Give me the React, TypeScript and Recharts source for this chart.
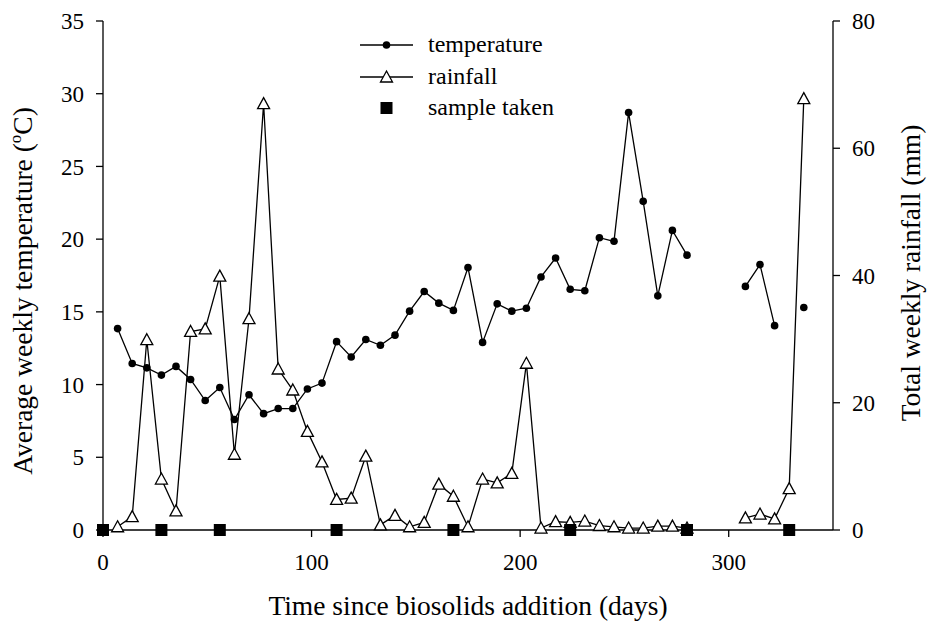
import React from "react";
import { ComposedChart, Line, XAxis, YAxis, Label } from "recharts";

// weekly readings, days since biosolids addition
const days = [
  0, 7, 14, 21, 28, 35, 42, 49, 56, 63, 70, 77, 84, 91, 98, 105, 112, 119, 126,
  133, 140, 147, 154, 161, 168, 175, 182, 189, 196, 203, 210, 217, 224, 231,
  238, 245, 252, 259, 266, 273, 280, 287, 294, 301, 308, 315, 322, 329, 336,
];

// average weekly temperature (oC), null = no record
const temperature = [
  null, 13.85, 11.45, 11.15, 10.65, 11.25, 10.35, 8.9, 9.8, 7.6, 9.3, 8.0,
  8.35, 8.35, 9.7, 10.1, 12.95, 11.9, 13.1, 12.7, 13.4, 15.05, 16.4, 15.6,
  15.1, 18.05, 12.9, 15.55, 15.05, 15.25, 17.4, 18.7, 16.55, 16.45, 20.1,
  19.85, 28.7, 22.6, 16.1, 20.6, 18.9, null, null, null, 16.75, 18.25, 14.05,
  null, 15.3,
];

// total weekly rainfall (mm)
const rainfall = [
  null, 0.5, 2.1, 29.9, 8.0, 3.0, 31.2, 31.6, 39.9, 11.9, 33.2, 67.0, 25.3,
  22.0, 15.5, 10.7, 4.8, 5.0, 11.6, 0.8, 2.3, 0.5, 1.2, 7.2, 5.3, 0.5, 8.0,
  7.4, 8.9, 26.2, 0.3, 1.3, 1.2, 1.4, 0.7, 0.5, 0.3, 0.3, 0.6, 0.6, 0.3, null,
  null, null, 1.9, 2.5, 1.75, 6.5, 67.8,
];

const sampleDays = [0, 28, 56, 112, 168, 224, 280, 329];

const xTicks = [0, 100, 200, 300];
const tempTicks = [0, 5, 10, 15, 20, 25, 30, 35];
const rainTicks = [0, 20, 40, 60, 80];

const data = days.map((d, i) => ({
  day: d,
  temperature: temperature[i],
  rainfall: rainfall[i],
  sample: sampleDays.includes(d) ? 0 : null,
}));

const FONT = "'Liberation Serif', 'Times New Roman', serif";
const INK = "#000";
const TITLE_SIZE = 27.5;

const tickStyle = { fill: INK, fontSize: 23, fontFamily: FONT };

function CircleDot(props: any) {
  const { cx, cy, value, index } = props;
  if (value == null || cy == null) return <g key={`c${index}`} />;
  return <circle key={`c${index}`} cx={cx} cy={cy} r={3.8} fill={INK} />;
}

function TriangleDot(props: any) {
  const { cx, cy, value, index } = props;
  if (value == null || cy == null) return <g key={`t${index}`} />;
  const w = 12;
  const h = 11;
  return (
    <path
      key={`t${index}`}
      d={`M${cx},${cy - h * 0.55} L${cx + w / 2},${cy + h * 0.45} L${cx - w / 2},${cy + h * 0.45} Z`}
      fill="#fff"
      stroke={INK}
      strokeWidth={1.3}
    />
  );
}

function SquareDot(props: any) {
  const { cx, cy, value, index } = props;
  if (value == null || cy == null) return <g key={`s${index}`} />;
  const s = 12;
  return <rect key={`s${index}`} x={cx - s / 2} y={cy - s / 2} width={s} height={s} fill={INK} />;
}

function ChartLegend() {
  const rows = [
    { label: "temperature", y: 45, kind: "circle" },
    { label: "rainfall", y: 77, kind: "triangle" },
    { label: "sample taken", y: 108, kind: "square" },
  ];
  return (
    <svg
      width={928}
      height={140}
      style={{ position: "absolute", left: 0, top: 0, pointerEvents: "none" }}
    >
      {rows.map((r) => (
        <g key={r.label}>
          {r.kind !== "square" && (
            <line x1={360} x2={413} y1={r.y} y2={r.y} stroke={INK} strokeWidth={1.3} />
          )}
          {r.kind === "circle" && <circle cx={386.5} cy={r.y} r={3.8} fill={INK} />}
          {r.kind === "triangle" && (
            <path
              d={`M386.5,${r.y - 6} L392.5,${r.y + 5} L380.5,${r.y + 5} Z`}
              fill="#fff"
              stroke={INK}
              strokeWidth={1.3}
            />
          )}
          {r.kind === "square" && <rect x={380.5} y={r.y - 6} width={12} height={12} fill={INK} />}
          <text x={428} y={r.y + 7} fontSize={24} fontFamily={FONT} fill={INK}>
            {r.label}
          </text>
        </g>
      ))}
    </svg>
  );
}

export default function App() {
  return (
    <div style={{ position: "absolute", left: 0, top: 0, width: 928, height: 627, background: "#fff" }}>
      <ComposedChart
        width={928}
        height={627}
        data={data}
        margin={{ top: 21, right: 0, bottom: 0, left: 0 }}
      >
        <XAxis
          dataKey="day"
          type="number"
          domain={[0, 350]}
          ticks={xTicks}
          height={97}
          tick={tickStyle}
          tickSize={7}
          tickMargin={17}
          axisLine={{ stroke: INK, strokeWidth: 1.3 }}
          tickLine={{ stroke: INK, strokeWidth: 1.3 }}
        >
          <Label
            content={() => (
              <text x={468} y={615} textAnchor="middle" fontSize={TITLE_SIZE} fontFamily={FONT} fill={INK}>
                Time since biosolids addition (days)
              </text>
            )}
          />
        </XAxis>
        <YAxis
          yAxisId="left"
          orientation="left"
          domain={[0, 35]}
          ticks={tempTicks}
          width={103}
          tick={tickStyle}
          tickSize={7}
          tickMargin={12}
          axisLine={{ stroke: INK, strokeWidth: 1.3 }}
          tickLine={{ stroke: INK, strokeWidth: 1.3 }}
        >
          <Label
            content={() => (
              <text
                transform="translate(32,291) rotate(-90)"
                textAnchor="middle"
                fontSize={TITLE_SIZE}
                fontFamily={FONT}
                fill={INK}
              >
                Average weekly temperature (
                <tspan fontSize={17} dy={-11}>o</tspan>
                <tspan dy={11}>C)</tspan>
              </text>
            )}
          />
        </YAxis>
        <YAxis
          yAxisId="right"
          orientation="right"
          domain={[0, 80]}
          ticks={rainTicks}
          width={95}
          tick={tickStyle}
          tickSize={7}
          tickMargin={12}
          axisLine={{ stroke: INK, strokeWidth: 1.3 }}
          tickLine={{ stroke: INK, strokeWidth: 1.3 }}
        >
          <Label
            content={() => (
              <text
                transform="translate(920,273) rotate(-90)"
                textAnchor="middle"
                fontSize={TITLE_SIZE}
                fontFamily={FONT}
                fill={INK}
              >
                Total weekly rainfall (mm)
              </text>
            )}
          />
        </YAxis>
        <Line
          yAxisId="left"
          dataKey="temperature"
          type="linear"
          stroke={INK}
          strokeWidth={1.3}
          dot={CircleDot}
          activeDot={false}
          connectNulls={false}
          isAnimationActive={false}
        />
        <Line
          yAxisId="right"
          dataKey="rainfall"
          type="linear"
          stroke={INK}
          strokeWidth={1.3}
          dot={TriangleDot}
          activeDot={false}
          connectNulls={false}
          isAnimationActive={false}
        />
        <Line
          yAxisId="left"
          dataKey="sample"
          type="linear"
          stroke="none"
          dot={SquareDot}
          activeDot={false}
          connectNulls={false}
          isAnimationActive={false}
        />
      </ComposedChart>
      <ChartLegend />
    </div>
  );
}
